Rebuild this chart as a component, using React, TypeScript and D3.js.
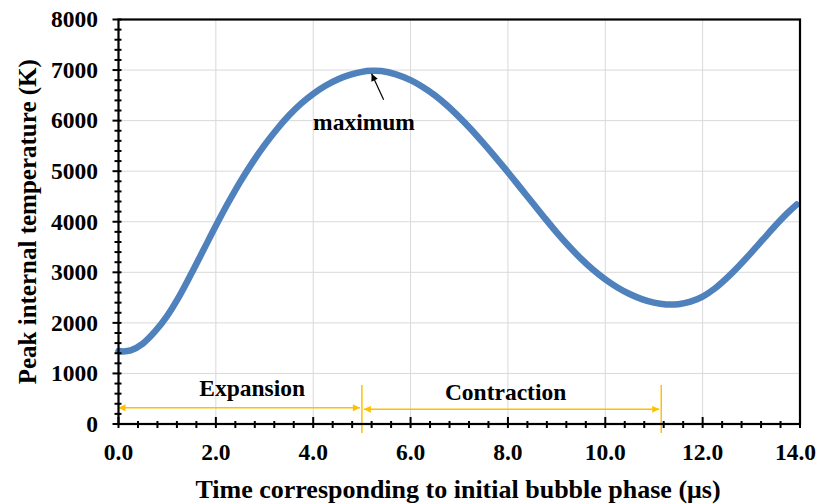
import { scaleLinear, line, curveCatmullRom, range } from "d3";
import React from "react";

// time (µs) and peak temperature (K)
const times = [
  0, 0.1, 0.25, 0.5, 0.75, 1.0, 1.25, 1.5, 1.75, 2.0, 2.25, 2.5, 2.75, 3.0,
  3.25, 3.5, 3.75, 4.0, 4.25, 4.5, 4.75, 5.0, 5.2, 5.4, 5.7, 6.0, 6.25, 6.5,
  6.75, 7.0, 7.25, 7.5, 7.75, 8.0, 8.25, 8.5, 8.75, 9.0, 9.25, 9.5, 9.75,
  10.0, 10.25, 10.5, 10.75, 11.0, 11.25, 11.5, 11.75, 12.0, 12.25, 12.5,
  12.75, 13.0, 13.25, 13.5, 13.75, 13.93
];
const temps = [
  1445, 1435, 1455, 1590, 1830, 2140, 2530, 2980, 3450, 3920, 4370, 4790,
  5170, 5515, 5825, 6100, 6335, 6530, 6690, 6815, 6905, 6965, 6985, 6980,
  6915, 6800, 6665, 6500, 6300, 6070, 5820, 5550, 5270, 4980, 4680, 4380,
  4080, 3790, 3520, 3270, 3050, 2860, 2700, 2570, 2470, 2400, 2365, 2370,
  2420, 2520, 2680, 2890, 3130, 3390, 3660, 3930, 4180, 4340
];

const xTickValues = [0, 2, 4, 6, 8, 10, 12, 14];
const yTickValues = [0, 1000, 2000, 3000, 4000, 5000, 6000, 7000, 8000];

const phaseBounds = [0, 5.0, 11.15];
const phaseNames = ["Expansion", "Contraction"];
const phaseArrowY = [320, 290];

const peakLabel = "maximum";
const xTitle = "Time corresponding to initial bubble phase (\u03bcs)";
const yTitle = "Peak internal temperature (K)";

document.body.style.margin = "0";

const W = 817;
const H = 504;
const L = 118.5;
const R = 800;
const T = 19.5;
const B = 424;
const FONT = "'Liberation Serif', 'Times New Roman', serif";
const ORANGE = "#FFC000";

export default function App() {
  const x = scaleLinear().domain([0, 14]).range([L, R]);
  const y = scaleLinear().domain([0, 8000]).range([B, T]);

  const pts: [number, number][] = times.map((t, i) => [t, temps[i]]);
  const path = line<[number, number]>()
    .x(d => x(d[0]))
    .y(d => y(d[1]))
    .curve(curveCatmullRom.alpha(0.5))(pts)!;

  const xMinor = range(0, 14.001, 0.4).filter(v => Math.abs(v / 2 - Math.round(v / 2)) > 0.01);
  const yMinor = range(0, 8001, 200).filter(v => v % 1000 !== 0);

  const peakI = temps.indexOf(Math.max(...temps));

  return (
    <svg width={W} height={H} style={{ display: "block", background: "#fff" }} fontFamily={FONT}>
      <defs>
        <marker id="oa" viewBox="0 0 10 10" refX="10" refY="5" markerWidth="9" markerHeight="7" markerUnits="userSpaceOnUse" orient="auto-start-reverse">
          <path d="M0,0 L10,5 L0,10 z" fill={ORANGE} />
        </marker>
        <marker id="ba" viewBox="0 0 10 10" refX="10" refY="5" markerWidth="9" markerHeight="7" markerUnits="userSpaceOnUse" orient="auto">
          <path d="M0,0 L10,5 L0,10 z" fill="#000" />
        </marker>
      </defs>

      {/* grid */}
      <g stroke="#d9d9d9" strokeWidth={1}>
        {yTickValues.slice(1, -1).map(v => (
          <line key={v} x1={L} x2={R} y1={y(v)} y2={y(v)} />
        ))}
        {xTickValues.slice(1, -1).map(v => (
          <line key={v} x1={x(v)} x2={x(v)} y1={T} y2={B} />
        ))}
      </g>

      {/* phase markers */}
      <g stroke={ORANGE} strokeWidth={1.5}>
        {phaseBounds.slice(1).map(v => (
          <line key={v} x1={x(v)} x2={x(v)} y1={385} y2={433} />
        ))}
        {phaseNames.map((n, i) => (
          <line
            key={n}
            x1={x(phaseBounds[i]) + (i ? 2 : 0)}
            x2={x(phaseBounds[i + 1]) - 2}
            y1={y(phaseArrowY[i])}
            y2={y(phaseArrowY[i])}
            markerStart="url(#oa)"
            markerEnd="url(#oa)"
          />
        ))}
      </g>
      {phaseNames.map((n, i) => (
        <text
          key={n}
          x={(x(phaseBounds[i]) + x(phaseBounds[i + 1])) / 2 + (i ? -6 : 12)}
          y={i ? 400 : 396}
          textAnchor="middle"
          fontSize={23.5}
          fontWeight="bold"
        >
          {n}
        </text>
      ))}

      {/* curve */}
      <path d={path} fill="none" stroke="#4F81BD" strokeWidth={6.5} strokeLinecap="round" />

      {/* maximum annotation */}
      <line
        x1={x(times[peakI]) + 12}
        y1={y(temps[peakI]) + 29}
        x2={x(times[peakI])}
        y2={y(temps[peakI]) + 3}
        stroke="#000"
        strokeWidth={1.2}
        markerEnd="url(#ba)"
      />
      <text x={364} y={130} textAnchor="middle" fontSize={23.5} fontWeight="bold">
        {peakLabel}
      </text>

      {/* frame */}
      <rect x={L} y={T} width={R - L} height={B - T} fill="none" stroke="#000" strokeWidth={2.2} />

      {/* ticks */}
      <g stroke="#000" strokeWidth={2}>
        {yTickValues.map(v => (
          <line key={v} x1={L - 6} x2={L + 3} y1={y(v)} y2={y(v)} />
        ))}
        {yMinor.map(v => (
          <line key={v} x1={L - 4} x2={L + 3} y1={y(v)} y2={y(v)} />
        ))}
        {xTickValues.map(v => (
          <line key={v} x1={x(v)} x2={x(v)} y1={B - 7} y2={B + 4} />
        ))}
        {xMinor.map(v => (
          <line key={v} x1={x(v)} x2={x(v)} y1={B - 3} y2={B + 4} />
        ))}
      </g>

      <g fontSize={23.5} fontWeight="bold">
        {yTickValues.map(v => (
          <text key={v} x={98} y={y(v)} dy="0.33em" textAnchor="end">
            {v}
          </text>
        ))}
        {xTickValues.map((v, i) => {
          const last = i === xTickValues.length - 1;
          return (
            <text key={v} x={last ? W - 1 : x(v)} y={460} textAnchor={last ? "end" : "middle"}>
              {v.toFixed(1)}
            </text>
          );
        })}
      </g>

      <text x={458} y={498} textAnchor="middle" fontSize={26} fontWeight="bold">
        {xTitle}
      </text>
      <text
        transform={`translate(27, ${(T + B) / 2}) rotate(-90)`}
        textAnchor="middle"
        dy="0.35em"
        fontSize={25}
        fontWeight="bold"
      >
        {yTitle}
      </text>
    </svg>
  );
}
